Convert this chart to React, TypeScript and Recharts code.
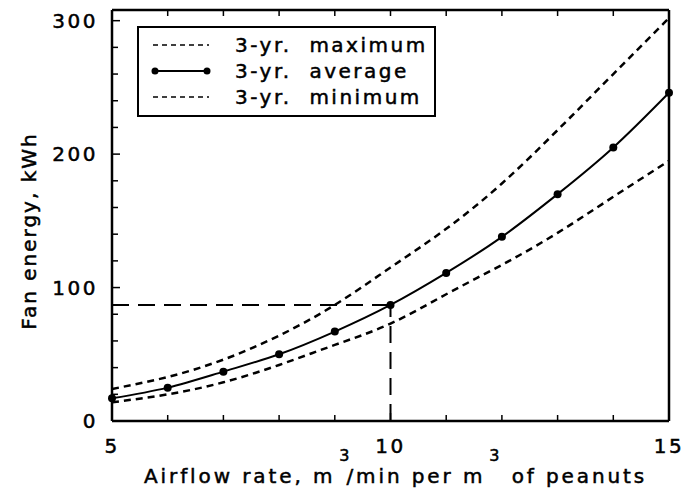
import React from 'react';
import { LineChart, Line, XAxis, YAxis, ReferenceLine, Legend, Label } from 'recharts';

// airflow rate, m3/min per m3 of peanuts
const airflow = [5, 6, 7, 8, 9, 10, 11, 12, 13, 14, 15];
// fan energy, kWh
const avgEnergy = [17, 25, 37, 50, 67, 87, 111, 138, 170, 205, 246];
const maxEnergy = [24, 33, 46, 64, 87, 115, 144, 178, 218, 260, 302];
const minEnergy = [14, 20, 29, 42, 57, 73, 95, 117, 141, 168, 195];

const xTicks = [5, 6, 7, 8, 9, 10, 11, 12, 13, 14, 15];
const xLabels = [5, 10, 15];
const yTicks = [0, 20, 40, 60, 80, 100, 120, 140, 160, 180, 200, 220, 240, 260, 280, 300];
const yLabels = [0, 100, 200, 300];

const designAirflow = 10;
const designEnergy = 87;

const data = airflow.map((x, i) => ({
  x,
  avg: avgEnergy[i],
  max: maxEnergy[i],
  min: minEnergy[i],
}));

const FONT = '"DejaVu Sans", sans-serif';
const textStyle = {
  fontFamily: FONT,
  fontSize: 20,
  fill: '#000',
  stroke: '#000',
  strokeWidth: 0.5,
};

const legendRows = [
  { key: 'max', name: '3-yr.  maximum', dashed: true },
  { key: 'avg', name: '3-yr.  average', dashed: false },
  { key: 'min', name: '3-yr.  minimum', dashed: true },
];

const BottomTick = (props: any) => {
  const { x, y, payload } = props;
  const major = xLabels.includes(payload.value);
  return (
    <g>
      <line x1={x} x2={x} y1={y} y2={y - (major ? 8 : 6)} stroke="#000" strokeWidth={1.5} />
      {major && (
        <text x={x} y={y + 32} textAnchor="middle" letterSpacing={2.5} style={textStyle}>
          {payload.value}
        </text>
      )}
    </g>
  );
};

const TopTick = (props: any) => {
  const { x, y } = props;
  return <line x1={x} x2={x} y1={y} y2={y + 6} stroke="#000" strokeWidth={1.5} />;
};

const LeftTick = (props: any) => {
  const { x, y, payload } = props;
  const major = yLabels.includes(payload.value);
  return (
    <g>
      <line x1={x} x2={x + (major ? 8 : 6)} y1={y} y2={y} stroke="#000" strokeWidth={1.5} />
      {major && (
        <text x={x - 14} y={y + 7} textAnchor="end" letterSpacing={2.5} style={textStyle}>
          {payload.value}
        </text>
      )}
    </g>
  );
};

const RightTick = (props: any) => {
  const { x, y, payload } = props;
  const major = yLabels.includes(payload.value);
  return <line x1={x} x2={x - (major ? 8 : 6)} y1={y} y2={y} stroke="#000" strokeWidth={1.5} />;
};

const XTitle = (props: any) => {
  const { viewBox } = props;
  const x0 = viewBox.x + 32;
  const y = viewBox.y + 62;
  return (
    <text x={x0} y={y} textAnchor="start" letterSpacing={2.9} style={textStyle}>
      <tspan>Airflow rate, m</tspan>
      <tspan dy={-22} dx={4} fontSize={16}>3</tspan>
      <tspan dy={22} dx={-6}>/min per m</tspan>
      <tspan dy={-22} dx={4} fontSize={16}>3</tspan>
      <tspan dy={22}> of peanuts</tspan>
    </text>
  );
};

const YTitle = () => (
  <text
    x={36}
    y={231}
    transform="rotate(-90 36 231)"
    textAnchor="middle"
    letterSpacing={2}
    style={textStyle}
  >
    Fan energy, kWh
  </text>
);

const LegendBox = () => (
  <div
    style={{
      border: '2px solid #000',
      background: '#fff',
      padding: '4px 6px 5px 12px',
      fontFamily: FONT,
      fontSize: 20,
      letterSpacing: 2.5,
      lineHeight: '26px',
      color: '#000',
      WebkitTextStroke: '0.5px #000',
    }}
  >
    {legendRows.map((r) => (
      <div key={r.key} style={{ display: 'flex', alignItems: 'center', whiteSpace: 'pre' }}>
        <svg width={60} height={12} style={{ flexShrink: 0 }}>
          {r.dashed ? (
            <line x1={2} x2={58} y1={6} y2={6} stroke="#000" strokeWidth={1.5} strokeDasharray="5 4" />
          ) : (
            <g>
              <line x1={4} x2={56} y1={6} y2={6} stroke="#000" strokeWidth={2} />
              <circle cx={4} cy={6} r={3.5} fill="#000" />
              <circle cx={56} cy={6} r={3.5} fill="#000" />
            </g>
          )}
        </svg>
        <span style={{ marginLeft: 24 }}>{r.name}</span>
      </div>
    ))}
  </div>
);

export default function App() {
  return (
    <div style={{ position: 'absolute', left: 0, top: 0, background: '#fff' }}>
      <LineChart width={693} height={491} data={data} margin={{ top: 0, right: 0, bottom: 0, left: 0 }}>
        <XAxis
          dataKey="x"
          type="number"
          domain={[5, 15]}
          ticks={xTicks}
          tick={<BottomTick />}
          tickLine={false}
          tickSize={0}
          tickMargin={0}
          height={70}
          axisLine={{ stroke: '#000', strokeWidth: 2.5 }}
          interval={0}
        >
          <Label content={<XTitle />} />
        </XAxis>
        <XAxis
          xAxisId="top"
          orientation="top"
          dataKey="x"
          type="number"
          domain={[5, 15]}
          ticks={xTicks}
          tick={<TopTick />}
          tickLine={false}
          tickSize={0}
          tickMargin={0}
          height={10}
          axisLine={{ stroke: '#000', strokeWidth: 2.5 }}
          interval={0}
        />
        <YAxis
          type="number"
          domain={[0, 308]}
          ticks={yTicks}
          tick={<LeftTick />}
          tickLine={false}
          tickSize={0}
          tickMargin={0}
          width={112}
          axisLine={{ stroke: '#000', strokeWidth: 2.5 }}
          interval={0}
        />
        <YAxis
          yAxisId="right"
          orientation="right"
          type="number"
          domain={[0, 308]}
          ticks={yTicks}
          tick={<RightTick />}
          tickLine={false}
          tickSize={0}
          tickMargin={0}
          width={24}
          axisLine={{ stroke: '#000', strokeWidth: 2.5 }}
          interval={0}
        />
        <ReferenceLine
          segment={[{ x: 5, y: designEnergy }, { x: designAirflow, y: designEnergy }]}
          stroke="#000"
          strokeWidth={2}
          strokeDasharray="17 9"
        />
        <ReferenceLine
          segment={[{ x: designAirflow, y: 0 }, { x: designAirflow, y: designEnergy }]}
          stroke="#000"
          strokeWidth={2}
          strokeDasharray="17 9"
        />
        <Line
          dataKey="max"
          type="natural"
          stroke="#000"
          strokeWidth={2.5}
          strokeDasharray="7 5"
          dot={false}
          isAnimationActive={false}
        />
        <Line
          dataKey="min"
          type="natural"
          stroke="#000"
          strokeWidth={2.5}
          strokeDasharray="7 5"
          dot={false}
          isAnimationActive={false}
        />
        <Line
          dataKey="avg"
          type="natural"
          stroke="#000"
          strokeWidth={2}
          dot={{ r: 4, fill: '#000', stroke: '#000', strokeWidth: 0 }}
          isAnimationActive={false}
        />
        <Legend
          layout="horizontal"
          verticalAlign="middle"
          align="center"
          content={<LegendBox />}
          wrapperStyle={{ left: 137, top: 26, width: 'auto', height: 'auto' }}
        />
        <YTitle />
      </LineChart>
    </div>
  );
}
